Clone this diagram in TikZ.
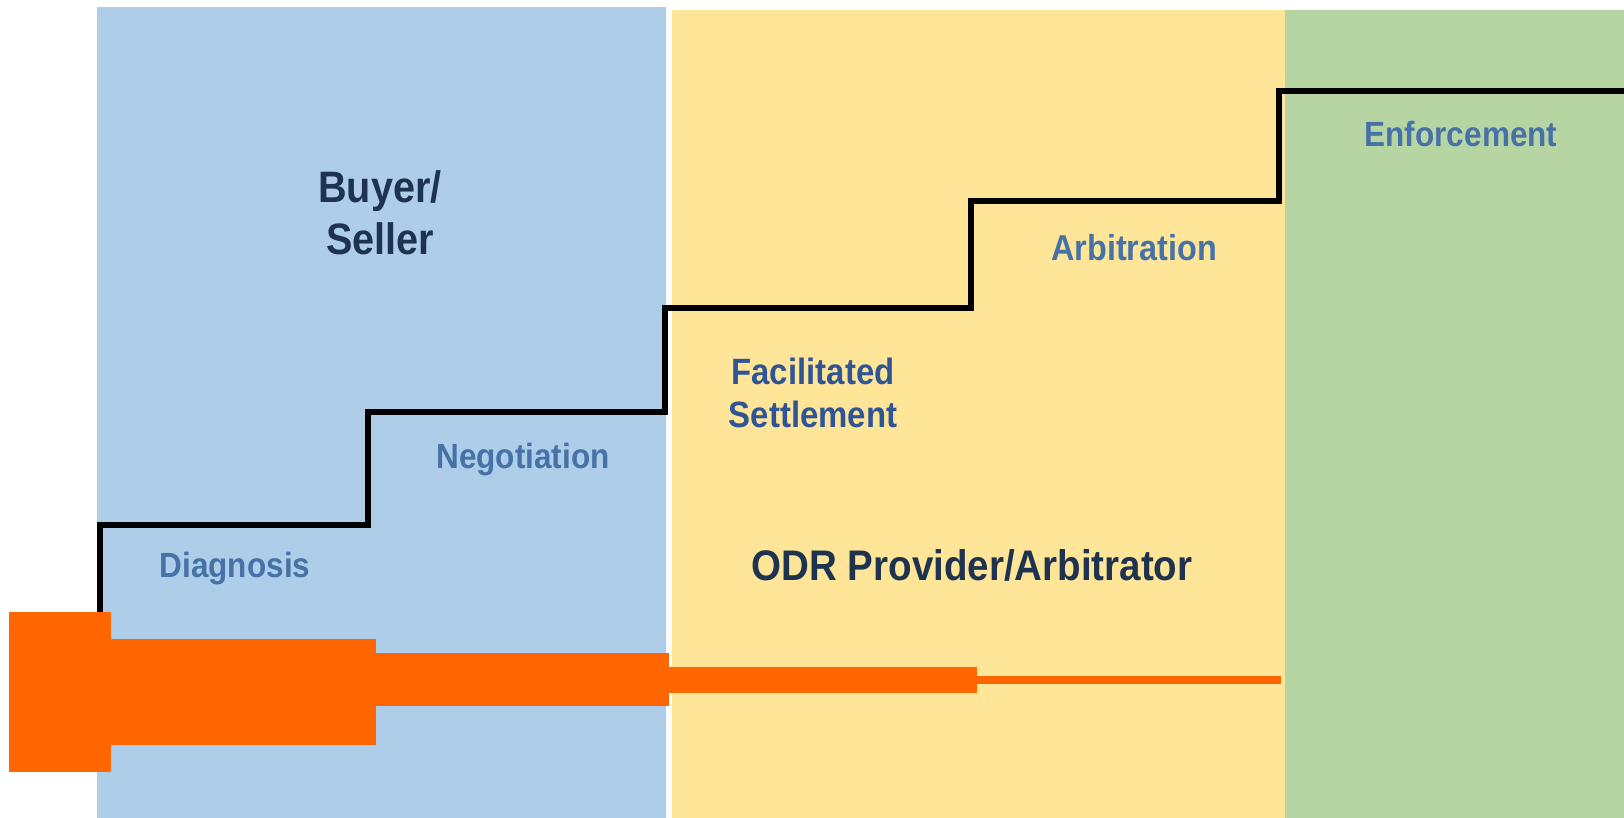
\documentclass[tikz,border=0pt]{standalone}
\usepackage{fontspec}
\setmainfont[FakeStretch=0.9]{Liberation Sans}
\usepackage{tikz}

\definecolor{buyerblue}{HTML}{AECDE9}
\definecolor{odryellow}{HTML}{FEE598}
\definecolor{enfgreen}{HTML}{B7D5A3}
\definecolor{barorange}{HTML}{FF6600}
\definecolor{rolenavy}{HTML}{1D3350}
\definecolor{stepblue}{HTML}{4672A8}
\definecolor{facilblue}{HTML}{2F5597}

\tikzset{
  stage/.style={font=\bfseries\fontsize{17.5}{21}\selectfont, text=stepblue, inner sep=0pt, anchor=base},
  role/.style={font=\bfseries\fontsize{22}{26}\selectfont, text=rolenavy, inner sep=0pt},
  stair/.style={line width=2.8pt, line join=miter},
}

\begin{document}
\begin{tikzpicture}[x=0.5pt, y=-0.5pt]
    \useasboundingbox (0,0) rectangle (1624,818);

    % Panels
    \fill[buyerblue] (97,7) rectangle (666,818);
    \fill[odryellow] (672,10) rectangle (1285,818);
    \fill[enfgreen] (1285,10) rectangle (1624,818);

    % Staircase
    \draw[stair] (100,640) |- (368,525) |- (665,412) |- (971,308)
        |- (1279,201) |- (1624,91);

    % Bars
    \fill[barorange] (9,612) rectangle (111,772);
    \fill[barorange] (111,639) rectangle (376,745);
    \fill[barorange] (376,653) rectangle (669,706);
    \fill[barorange] (669,667) rectangle (977,693);
    \fill[barorange] (977,676) rectangle (1281,684);

    % Nodes
    \node[role, align=center] (buyer) at (380,213) {Buyer/\\Seller};
    \node[role, anchor=base, font=\bfseries\fontsize{21.4}{26}\selectfont] (odr) at (972,580) {ODR Provider/Arbitrator};
    \node[stage] (diag) at (235,577) {Diagnosis};
    \node[stage] (nego) at (523,468) {Negotiation};
    \node[stage, anchor=center, align=center, text=facilblue,
          font=\bfseries\fontsize{18.3}{21.5}\selectfont] (facil) at (813,393) {Facilitated\\Settlement};
    \node[stage, font=\bfseries\fontsize{18}{21}\selectfont] (arb) at (1134,261) {Arbitration};
    \node[stage] (enf) at (1461,147) {Enforcement};
\end{tikzpicture}
\end{document}
